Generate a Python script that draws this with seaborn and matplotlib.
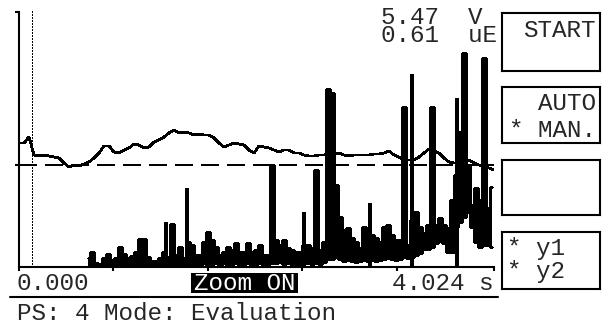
import numpy as np
import pandas as pd
import matplotlib
matplotlib.use("Agg")
import matplotlib.pyplot as plt
from matplotlib.patches import Rectangle
from matplotlib.lines import Line2D
import seaborn as sns

# ---------------- data ----------------
T_END = 4.024            # s, full scale of zoomed window
REF_LEVEL = 102          # dashed reference level (display units 0..255)
CURSOR_T = 0.110         # dotted cursor position, s

# trace y1: slow line, evenly sampled over 0..T_END
y1_values = [124, 124, 130, 112, 111, 112, 111, 110, 109, 104,
             100, 102, 101, 103, 105, 109, 114, 121, 121, 115,
             114, 117, 119, 123, 122, 119, 120, 125, 127, 130,
             134, 137, 134, 135, 134, 132, 133, 132, 132, 129,
             124, 120, 122, 124, 123, 122, 117, 114, 121, 120,
             119, 117, 115, 117, 117, 114, 114, 112, 111, 111,
             112, 112, 113, 113, 114, 112, 111, 112, 112, 112,
             112, 113, 113, 114, 116, 112, 110, 107, 107, 107,
             110, 114, 118, 116, 114, 109, 105, 104, 104, 106,
             107, 104, 102, 101, 99, 97]

# trace y2: spiky signal, upper / lower envelope per sample
S2_T0 = 0.585            # s, first sample
S2_DT = 0.0339           # s, sample spacing
y2_high = [9, 15, 4, 3, 9, 13, 7, 9, 20, 13,
           9, 11, 15, 28, 28, 10, 6, 6, 9, 15,
           10, 43, 12, 20, 9, 25, 22, 12, 12, 25,
           35, 27, 20, 12, 15, 20, 17, 24, 15, 15,
           24, 15, 17, 22, 12, 12, 102, 27, 22, 27,
           19, 17, 15, 15, 22, 22, 19, 97, 17, 25,
           178, 174, 82, 50, 37, 39, 29, 25, 19, 40,
           32, 32, 29, 25, 40, 42, 32, 27, 27, 160,
           22, 47, 55, 40, 34, 42, 160, 42, 49, 42,
           39, 67, 92, 135, 214, 102, 62, 79, 67, 209,
           59, 80]
y2_low = [1, 1, 0, 0, 1, 1, 0, 1, 1, 2,
          1, 1, 2, 2, 3, 1, 1, 1, 1, 2,
          2, 3, 1, 3, 1, 3, 2, 3, 1, 4,
          2, 3, 4, 1, 4, 2, 3, 4, 2, 3,
          4, 2, 3, 4, 2, 3, 4, 4, 5, 3,
          4, 3, 2, 3, 4, 4, 3, 4, 3, 5,
          8, 8, 10, 8, 6, 7, 6, 5, 6, 7,
          6, 7, 6, 7, 8, 9, 8, 7, 8, 10,
          9, 10, 12, 14, 18, 18, 20, 24, 26, 24,
          15, 15, 40, 45, 50, 55, 40, 25, 20, 22,
          22, 20]
# isolated thin spikes of y2
spike_t = [1.245, 1.423, 2.414, 2.974, 3.329, 3.711]
spike_top = [45, 79, 55, 64, 193, 169]

# texts
readout_lines = ["5.47  V", "0.61  uE"]
x_start_label = "0.000"
x_end_label = "4.024 s"
zoom_label = "Zoom ON"
status_line = "PS: 4 Mode: Evaluation"
key_labels = ["START", "AUTO", "* MAN.", "* y1", "* y2"]

# ---------------- figure ----------------
sns.set_theme(style="white")
plt.rcParams['font.family'] = ['Liberation Mono', 'DejaVu Sans Mono']
FS = 17.5

W, H = 605, 329
fig = plt.figure(figsize=(W / 100, H / 100), dpi=100)
fig.patch.set_facecolor('white')

def fx(px):
    return px / W

def fy(py):
    return 1 - py / H

ax = fig.add_axes([fx(19), fy(267), fx(494) - fx(19), fy(12) - fy(267)])
ax.set_facecolor('white')

df1 = pd.DataFrame({'t': np.linspace(0, T_END, len(y1_values)), 'y': y1_values})
t2 = S2_T0 + S2_DT * np.arange(len(y2_high))
df2 = pd.DataFrame({'t': t2, 'hi': y2_high, 'lo': y2_low})

# y2 spiky trace
ax.fill_between(df2['t'], df2['lo'], df2['hi'], step='mid', color='black', lw=0,
                antialiased=False)
sns.lineplot(data=df2, x='t', y='hi', ax=ax, color='black', lw=1.0,
             drawstyle='steps-mid', estimator=None, antialiased=False)
sns.lineplot(data=df2, x='t', y='lo', ax=ax, color='black', lw=1.0,
             drawstyle='steps-mid', estimator=None, antialiased=False)
ax.vlines(spike_t, 0, spike_top, color='black', lw=1.5, antialiased=False)

# y1 slow trace
sns.lineplot(data=df1, x='t', y='y', ax=ax, color='black', lw=1.3,
             estimator=None, antialiased=False)

# reference line and cursor
ax.axhline(REF_LEVEL, color='black', lw=1.5, dashes=(8.2, 3.9), antialiased=False)
ax.axvline(CURSOR_T, ymax=1.01, color='black', lw=1.0, dashes=(1.0, 1.2),
           antialiased=False, clip_on=False)

ax.set_xlim(0, T_END)
ax.set_ylim(0, 255)
ax.set_xticks([0, 0.8, 1.6, 2.4, 3.2, T_END])
ax.set_yticks([REF_LEVEL, 255])
ax.tick_params(axis='both', direction='out', length=3, width=1.5, color='black',
               labelbottom=False, labelleft=False, bottom=True, left=True)
ax.set_xlabel('')
ax.set_ylabel('')
for side in ['top', 'right']:
    ax.spines[side].set_visible(False)
for side in ['left', 'bottom']:
    ax.spines[side].set_color('black')
    ax.spines[side].set_linewidth(1.5)

# readouts (one two-line text block, anchored at the second line's baseline)
fig.text(fx(381), fy(42), "\n".join(readout_lines), fontsize=FS, va='baseline',
         ha='left', linespacing=0.72, multialignment='left')

# axis end labels
fig.text(fx(17), fy(290), x_start_label, fontsize=FS, va='baseline', ha='left')
fig.text(fx(493), fy(290), x_end_label, fontsize=FS, va='baseline', ha='right')
fig.add_artist(Rectangle((fx(191), fy(293)), fx(298) - fx(191), fy(273) - fy(293),
                         transform=fig.transFigure, color='black', lw=0))
fig.text(fx(244.5), fy(290), zoom_label, fontsize=FS, va='baseline', ha='center',
         color='white')

# separator + status line
fig.add_artist(Line2D([fx(10), fx(498)], [fy(297), fy(297)], color='black', lw=1.5,
                      transform=fig.transFigure))
fig.text(fx(17), fy(320), status_line, fontsize=FS, va='baseline', ha='left')

# soft-key boxes
boxes = [(13, 71), (87, 143), (160, 215), (232, 289)]
for top, bot in boxes:
    bax = fig.add_axes([fx(502), fy(bot), fx(600) - fx(502), fy(top) - fy(bot)])
    bax.set_xticks([])
    bax.set_yticks([])
    bax.set_facecolor('none')
    for s in bax.spines.values():
        s.set_visible(True)
        s.set_color('black')
        s.set_linewidth(1.5)

fig.text(fx(596), fy(37), key_labels[0], fontsize=FS, va='baseline', ha='right')
fig.text(fx(596), fy(110), key_labels[1], fontsize=FS, va='baseline', ha='right')
fig.text(fx(596), fy(137), key_labels[2], fontsize=FS, va='baseline', ha='right')
fig.text(fx(507), fy(255), key_labels[3], fontsize=FS, va='baseline', ha='left')
fig.text(fx(507), fy(278), key_labels[4], fontsize=FS, va='baseline', ha='left')

fig.savefig("out.png", dpi=100, facecolor='white')
